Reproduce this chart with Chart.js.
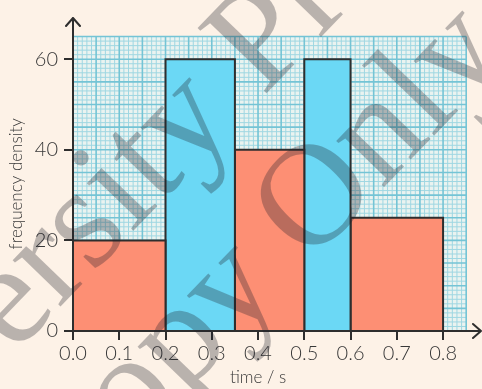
<!DOCTYPE html>
<html>
<head>
<meta charset="utf-8">
<script src="https://cdn.jsdelivr.net/npm/chart.js@4.4.1/dist/chart.umd.min.js"></script>
<style>
    html, body { margin: 0; padding: 0; background: #fdf2e7; }
    #wrap { width: 482px; height: 389px; position: relative; }
</style>
</head>
<body>
<div id="wrap"><canvas id="hist"></canvas></div>
<script>
//class boundaries and heights of the histogram
const binEdges = [0, 0.2, 0.35, 0.5, 0.6, 0.8];
const freqDensity = [20, 60, 40, 60, 25];
const xTickValues = [0, 0.1, 0.2, 0.3, 0.4, 0.5, 0.6, 0.7, 0.8];
const yTickValues = [0, 20, 40, 60];

const xTitle = "time / s";
const yTitle = "frequency density";
const stampLines = ["Cambridge University Press", "Review Copy Only"];

//colours
const salmon = "#fd8f74";
const sky = "#6bd8f5";
const ink = "#2e2e2e";
const textCol = "#383838";
const barFills = [salmon, sky, salmon, sky, salmon];

//each bar is a closed outline filled down to zero
const datasets = freqDensity.map((h, i) => ({
    data: [
        { x: binEdges[i], y: 0 },
        { x: binEdges[i], y: h },
        { x: binEdges[i + 1], y: h },
        { x: binEdges[i + 1], y: 0 }
    ],
    showLine: true,
    fill: "origin",
    backgroundColor: barFills[i],
    borderColor: ink,
    borderWidth: 2,
    pointRadius: 0,
    tension: 0,
    clip: 4
}));

//graph paper behind the bars
const paperPlugin = {
    id: "paper",
    beforeDatasetsDraw(chart) {
        const { ctx, scales: { x, y } } = chart;
        const left = x.getPixelForValue(0), right = x.getPixelForValue(0.85);
        const bottom = y.getPixelForValue(0), top = y.getPixelForValue(65);
        ctx.save();
        ctx.fillStyle = "#eaf3f0";
        ctx.fillRect(left, top, right - left, bottom - top);
        for (let pass = 0; pass < 2; pass++) {
            ctx.strokeStyle = pass ? "#74c4d5" : "#9fd7e2";
            ctx.lineWidth = pass ? 1.6 : 1;
            ctx.beginPath();
            for (let i = 0; i <= 85; i++) {
                if ((i % 5 === 0) !== !!pass) continue;
                const px = x.getPixelForValue(i / 100);
                ctx.moveTo(px, top);
                ctx.lineTo(px, bottom);
            }
            for (let j = 0; j <= 65; j++) {
                if ((j % 5 === 0) !== !!pass) continue;
                const py = y.getPixelForValue(j);
                ctx.moveTo(left, py);
                ctx.lineTo(right, py);
            }
            ctx.stroke();
        }
        ctx.restore();
    }
};

//axes with arrow heads and their titles
const axesPlugin = {
    id: "axes",
    afterDatasetsDraw(chart) {
        const { ctx, chartArea: a, scales: { x, y } } = chart;
        const ox = x.getPixelForValue(0), oy = y.getPixelForValue(0);
        ctx.save();
        ctx.strokeStyle = ink;
        ctx.lineWidth = 2;
        ctx.lineCap = "round";
        ctx.lineJoin = "round";
        ctx.beginPath();
        ctx.moveTo(ox, oy);
        ctx.lineTo(ox, a.top);
        ctx.moveTo(ox - 7, a.top + 8);
        ctx.lineTo(ox, a.top);
        ctx.lineTo(ox + 7, a.top + 8);
        ctx.moveTo(ox, oy);
        ctx.lineTo(a.right, oy);
        ctx.moveTo(a.right - 8, oy - 7);
        ctx.lineTo(a.right, oy);
        ctx.lineTo(a.right - 8, oy + 7);
        ctx.stroke();

        ctx.fillStyle = textCol;
        ctx.font = "300 17px Lato, 'Open Sans', sans-serif";
        ctx.textAlign = "center";
        ctx.textBaseline = "middle";
        ctx.fillText(xTitle, x.getPixelForValue(0.4), 378);
        ctx.translate(17, y.getPixelForValue(32.5));
        ctx.rotate(-Math.PI / 2);
        ctx.fillText(yTitle, 0, 0);
        ctx.restore();
    }
};

//diagonal stamp over the whole figure
const stampPlugin = {
    id: "stamp",
    afterDraw(chart) {
        const ctx = chart.ctx;
        const size = 145;
        const angle = -46 * Math.PI / 180;
        const anchors = [
            { text: stampLines[0], at: stampLines[0].indexOf("y "), cx: 200, cy: 137, lift: 0.12 },
            { text: stampLines[1], at: stampLines[1].indexOf("O"), cx: 310, cy: 193, lift: 0.34 }
        ];
        ctx.save();
        ctx.font = size + "px 'Liberation Serif', 'DejaVu Serif', serif";
        ctx.fillStyle = "rgba(30, 30, 40, 0.3)";
        ctx.textBaseline = "alphabetic";
        anchors.forEach(s => {
            const pre = ctx.measureText(s.text.slice(0, s.at)).width;
            const ch = ctx.measureText(s.text[s.at]).width;
            ctx.save();
            ctx.translate(s.cx, s.cy);
            ctx.rotate(angle);
            ctx.fillText(s.text, -(pre + ch / 2), s.lift * size);
            ctx.restore();
        });
        ctx.restore();
    }
};

const tickFont = { family: "Lato, 'Open Sans', sans-serif", size: 20, weight: 300 };

new Chart(document.getElementById("hist"), {
    type: "scatter",
    data: { datasets },
    options: {
        responsive: true,
        maintainAspectRatio: false,
        animation: false,
        layout: { padding: { top: 12, right: 1, left: 0, bottom: 0 } },
        plugins: { legend: { display: false }, tooltip: { enabled: false } },
        scales: {
            x: {
                type: "linear",
                min: 0,
                max: 0.882,
                afterFit: s => { s.height = 58; },
                afterBuildTicks: s => { s.ticks = xTickValues.map(v => ({ value: v })); },
                border: { display: false },
                grid: { drawOnChartArea: false, drawTicks: true, tickLength: 9, color: ink, lineWidth: 2 },
                ticks: { font: tickFont, color: textCol, padding: 2, callback: v => v.toFixed(1), maxRotation: 0 }
            },
            y: {
                min: 0,
                max: 69.1,
                afterFit: s => { s.width = 73; },
                afterBuildTicks: s => { s.ticks = yTickValues.map(v => ({ value: v })); },
                border: { display: false },
                grid: { drawOnChartArea: false, drawTicks: true, tickLength: 9, color: ink, lineWidth: 2 },
                ticks: { font: tickFont, color: textCol, padding: 6 }
            }
        }
    },
    plugins: [paperPlugin, axesPlugin, stampPlugin]
});
</script>
</body>
</html>
